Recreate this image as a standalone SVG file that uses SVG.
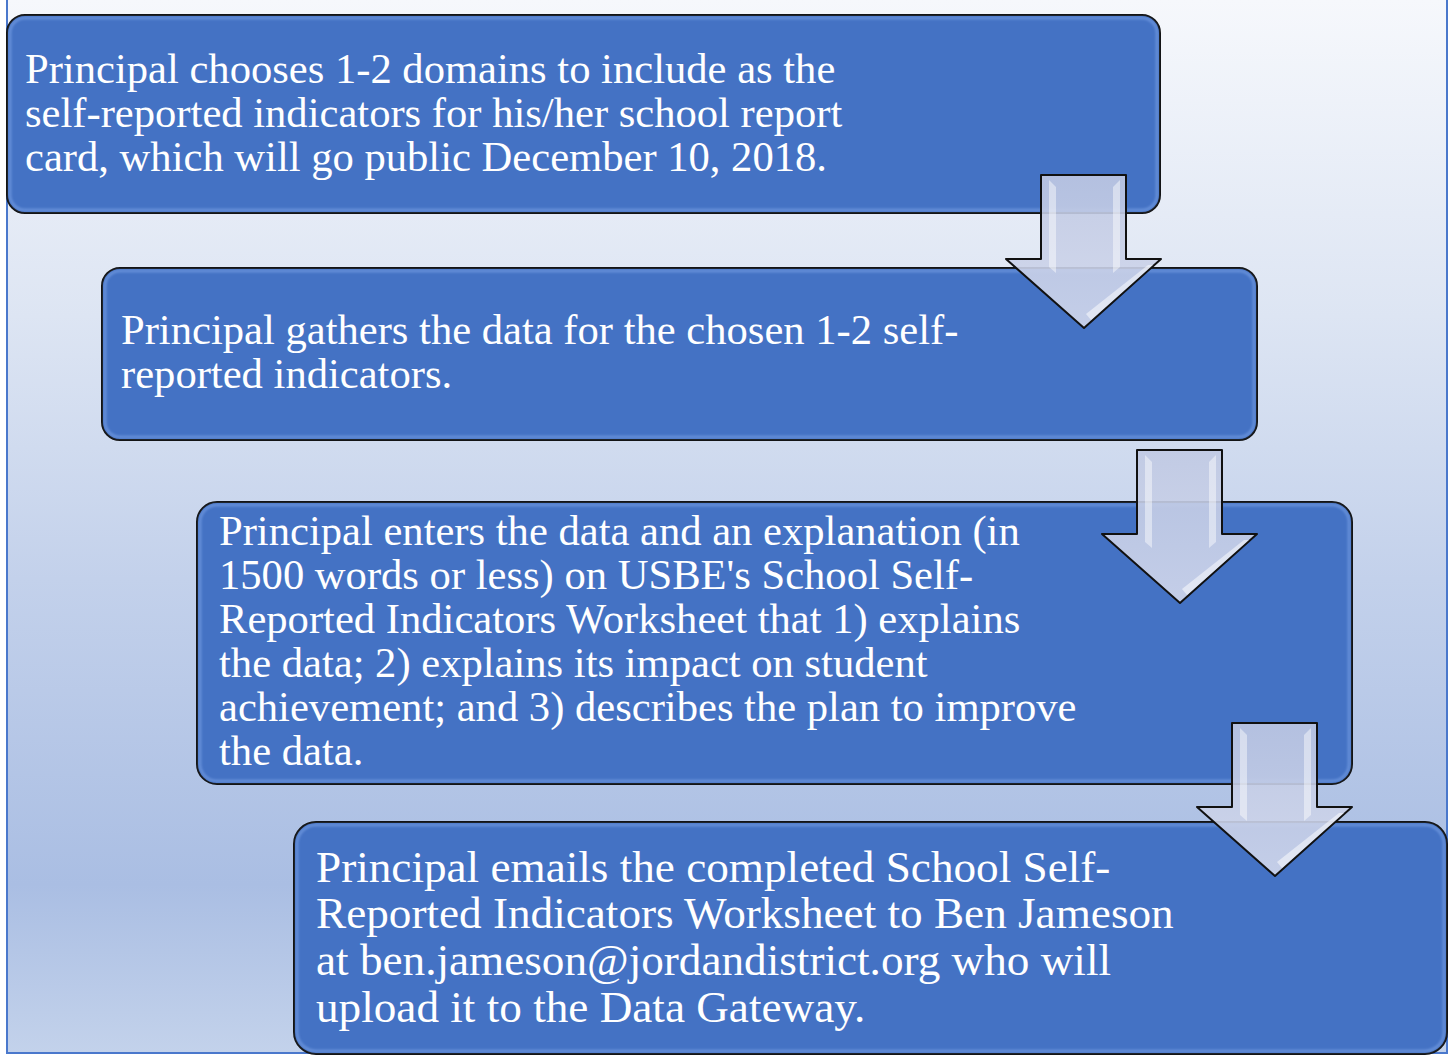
<svg xmlns="http://www.w3.org/2000/svg" width="1453" height="1057" viewBox="0 0 1453 1057">
<defs>
<linearGradient id="bg" x1="0" y1="0" x2="0" y2="1053" gradientUnits="userSpaceOnUse">
<stop offset="0" stop-color="#f6f8fc"/>
<stop offset="0.3" stop-color="#dde5f3"/>
<stop offset="0.55" stop-color="#c3d1eb"/>
<stop offset="0.84" stop-color="#aabee3"/>
<stop offset="1" stop-color="#c3d2eb"/>
</linearGradient>
<linearGradient id="hl" x1="0" y1="0" x2="0" y2="1">
<stop offset="0" stop-color="#ffffff"/>
<stop offset="0.08" stop-color="#b9d3ff"/>
<stop offset="0.9" stop-color="#a8c8ff"/>
<stop offset="1" stop-color="#ffffff"/>
</linearGradient>
<linearGradient id="arr" x1="0" y1="0" x2="0" y2="1">
<stop offset="0" stop-color="#c0c9e3"/>
<stop offset="1" stop-color="#d2d8ec"/>
</linearGradient>
<filter id="soft" x="-20%" y="-20%" width="140%" height="140%">
<feGaussianBlur stdDeviation="1.2"/>
</filter>
<g id="arrow">
<polygon points="0,0 85,0 85,84 120,84 43,153 -35,84 0,84" fill="url(#arr)" fill-opacity="0.9" stroke="#111" stroke-width="2" stroke-linejoin="round"/>
<polygon points="8,5 15,12 15,98 8,92" fill="#ffffff" fill-opacity="0.45"/>
<polygon points="79,5 72,12 72,98 79,92" fill="#ffffff" fill-opacity="0.45"/>
<polygon points="107,90 112,90 50,145 45,139" fill="#ffffff" fill-opacity="0.5"/>
</g>
</defs>
<style>
.box{fill:#4472c4;stroke:#111;stroke-width:2}
.glow{fill:none;stroke:#7aa2e6;stroke-width:3;opacity:0.6}
.hl{stroke:url(#hl);stroke-width:3.5;stroke-linecap:round}
.t{font-family:"Liberation Serif","Times New Roman",Times,serif;fill:#ffffff;font-size:42.6px}
.t4{font-family:"Liberation Serif","Times New Roman",Times,serif;fill:#ffffff;font-size:45.2px}
</style>
<rect x="7" y="-2" width="1440" height="1055" fill="url(#bg)" stroke="#4a78cc" stroke-width="2"/>

<g id="node1">
<rect class="box" x="7" y="15" width="1153" height="198" rx="18"/>
<rect class="glow" x="10" y="18" width="1147" height="192" rx="15" filter="url(#soft)"/>
<line class="hl" x1="17" y1="32" x2="17" y2="195"/>
<line class="hl" x1="1149" y1="32" x2="1149" y2="197"/>
<text class="t" x="25" y="83">Principal chooses 1-2 domains to include as the</text>
<text class="t" x="25" y="127">self-reported indicators for his/her school report</text>
<text class="t" x="25" y="171">card, which will go public December 10, 2018.</text>
</g>

<g id="node2">
<rect class="box" x="102" y="268" width="1155" height="172" rx="18"/>
<rect class="glow" x="105" y="271" width="1149" height="166" rx="15" filter="url(#soft)"/>
<line class="hl" x1="113" y1="285" x2="113" y2="424"/>
<line class="hl" x1="1246" y1="285" x2="1246" y2="424"/>
<text class="t" x="121" y="344">Principal gathers the data for the chosen 1-2 self-</text>
<text class="t" x="121" y="388">reported indicators.</text>
</g>

<g id="node3">
<rect class="box" x="197" y="502" width="1155" height="282" rx="20"/>
<rect class="glow" x="200" y="505" width="1149" height="276" rx="17" filter="url(#soft)"/>
<line class="hl" x1="209" y1="522" x2="209" y2="766"/>
<line class="hl" x1="1341" y1="522" x2="1341" y2="766"/>
<text class="t" x="219" y="545">Principal enters the data and an explanation (in</text>
<text class="t" x="219" y="589">1500 words or less) on USBE's School Self-</text>
<text class="t" x="219" y="633">Reported Indicators Worksheet that 1) explains</text>
<text class="t" x="219" y="677">the data; 2) explains its impact on student</text>
<text class="t" x="219" y="721">achievement; and 3) describes the plan to improve</text>
<text class="t" x="219" y="765">the data.</text>
</g>

<g id="node4">
<rect class="box" x="294" y="822" width="1153" height="232" rx="22"/>
<rect class="glow" x="297" y="825" width="1147" height="226" rx="19" filter="url(#soft)"/>
<line class="hl" x1="306" y1="840" x2="306" y2="1038"/>
<line class="hl" x1="1436" y1="844" x2="1436" y2="1038"/>
<text class="t4" x="316" y="882">Principal emails the completed School Self-</text>
<text class="t4" x="316" y="928">Reported Indicators Worksheet to Ben Jameson</text>
<text class="t4" x="316" y="975">at ben.jameson@jordandistrict.org who will</text>
<text class="t4" x="316" y="1022">upload it to the Data Gateway.</text>
</g>

<g id="connectors">
<use href="#arrow" transform="translate(1041,175)"/>
<use href="#arrow" transform="translate(1137,450)"/>
<use href="#arrow" transform="translate(1232,723)"/>
</g>
</svg>
